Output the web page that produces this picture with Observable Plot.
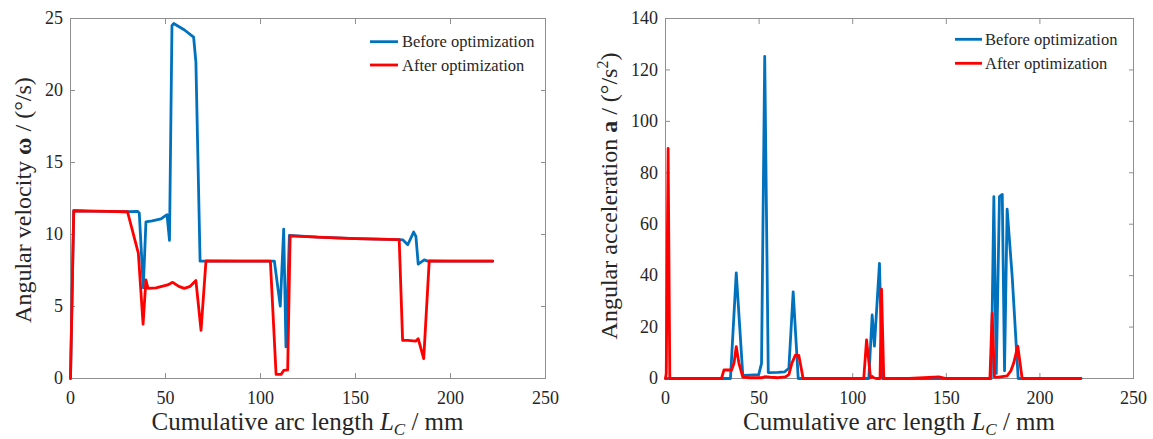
<!DOCTYPE html>
<html>
<head>
<meta charset="utf-8">
<script src="https://cdn.jsdelivr.net/npm/d3@7"></script>
<script src="https://cdn.jsdelivr.net/npm/@observablehq/plot@0.6"></script>
<style>
  html, body { margin: 0; padding: 0; background: white; }
  #row { display: flex; flex-direction: row; width: 1153px; height: 439px; overflow: hidden; }
  svg { display: block; }
  #row svg, #row svg text, #row svg tspan { font-family: "Liberation Serif", "DejaVu Serif", serif !important; }
</style>
</head>
<body>
<div id="row"></div>
<script>
// ---------- Data ----------
const xTicks = [0, 50, 100, 150, 200, 250];
const omegaTicks = [0, 5, 10, 15, 20, 25];
const accTicks = [0, 20, 40, 60, 80, 100, 120, 140];
const seriesNames = ["Before optimization", "After optimization"];

// Angular velocity, before optimization
const velBeforeL = [0, 1.7, 10, 20, 30, 35.4, 36.2, 38.3, 39.7, 43, 47.6, 50.8, 52.1, 53.4, 54.3, 60, 64.8, 66, 68.2, 75, 90, 107.3, 110.4, 112.2, 113.4, 115.2, 130, 150, 173, 175, 177.5, 180.6, 181.8, 183, 186.2, 188, 200, 222.2];
const velBeforeW = [0, 11.65, 11.62, 11.6, 11.58, 11.6, 11.5, 6.3, 10.87, 10.95, 11.08, 11.38, 9.59, 24.5, 24.65, 24.2, 23.7, 21.97, 8.15, 8.15, 8.15, 8.15, 5.03, 10.38, 2.19, 9.94, 9.82, 9.72, 9.64, 9.62, 9.29, 10.17, 9.87, 7.94, 8.24, 8.15, 8.15, 8.15];

// Angular velocity, after optimization
const velAfterL = [0, 1.7, 10, 20, 30, 35.7, 38.2, 39.7, 40.8, 45, 51.1, 53.8, 57, 59.9, 63, 66, 68.7, 71.3, 90, 105.2, 108.2, 110.8, 112.2, 114.3, 115.6, 130, 150, 173, 174.8, 177.5, 181.8, 183, 185.9, 188.8, 200, 222.2];
const velAfterW = [0, 11.65, 11.62, 11.6, 11.58, 8.7, 3.77, 6.84, 6.26, 6.3, 6.5, 6.68, 6.4, 6.26, 6.4, 6.8, 3.35, 8.17, 8.15, 8.15, 0.28, 0.28, 0.56, 0.6, 9.9, 9.82, 9.72, 9.64, 2.65, 2.65, 2.6, 2.77, 1.38, 8.17, 8.15, 8.15];

// Angular acceleration, before optimization
const accBeforeL = [0, 34.7, 37.8, 41.3, 45, 49.8, 51.3, 53, 54.9, 60, 63.7, 65.9, 68.2, 70.9, 80, 106.5, 108.6, 110.4, 111.6, 114.3, 115.8, 130, 150, 174, 175.4, 176.7, 178.4, 179.9, 181.1, 182.5, 185.2, 188.4, 200, 222];
const accBeforeA = [0, 0, 41.1, 1.2, 1.3, 1.5, 5.9, 125.3, 2.3, 2.4, 2.6, 4, 33.7, 0, 0, 0, 0, 24.7, 12.6, 44.8, 0, 0, 0, 0, 70.7, 2, 70.7, 71.6, 3, 65.9, 39.6, 0, 0, 0];

// Angular acceleration, after optimization
const accAfterL = [0, 0.4, 1.4, 2.3, 10, 29.9, 31.2, 35.3, 36.6, 37.8, 39.2, 41.3, 45, 51.6, 53, 56, 60, 64, 65.9, 67.5, 69.4, 71.2, 72.5, 73.5, 90, 105.9, 107.4, 109.5, 110.5, 111.2, 112.5, 114.6, 115.4, 116.6, 130, 146, 150, 173.3, 174.5, 175.7, 178, 182.5, 184.5, 186, 188.2, 190.5, 200, 221.7];
const accAfterA = [0, 2, 89.5, 0, 0, 0, 3.3, 3.3, 6, 12.4, 6, 0.5, 0.3, 0.3, 0.7, 0.5, 0.3, 0.6, 1.5, 6, 9.1, 9, 4, 0, 0, 0, 15, 0.3, 0.8, 0.3, 0, 0, 34.7, 0, 0, 0.6, 0, 0, 25.3, 0.5, 0.5, 1, 3, 6, 12.6, 0, 0, 0];

// ---------- Build ----------
const BLUE = "#0072BD", RED = "#FF0000";
const FRAME = "#8f8f8f", TEXT = "#262626";
const FONT = "Liberation Serif, DejaVu Serif, serif";

const zip = (xs, ys) => xs.map((x, i) => ({x, y: ys[i]}));

function makeChart({width, marginLeft, marginRight, yDomain, yTicks, before, after}) {
  return Plot.plot({
    width, height: 439,
    marginLeft, marginRight, marginTop: 18, marginBottom: 61,
    style: {fontFamily: FONT, fontSize: "18px", background: "white", color: TEXT, overflow: "visible"},
    x: {domain: [0, 250]},
    y: {domain: yDomain},
    marks: [
      Plot.axisX({ticks: xTicks, tickSize: -5, tickPadding: 18, stroke: FRAME, fill: TEXT, label: null}),
      Plot.axisX({anchor: "top", ticks: xTicks, tickSize: -5, tickFormat: () => "", stroke: FRAME, label: null}),
      Plot.axisY({ticks: yTicks, tickSize: -5, tickPadding: 12.5, stroke: FRAME, fill: TEXT, label: null}),
      Plot.axisY({anchor: "right", ticks: yTicks, tickSize: -5, tickFormat: () => "", stroke: FRAME, label: null}),
      Plot.frame({stroke: FRAME, strokeWidth: 1}),
      Plot.line(before, {x: "x", y: "y", stroke: BLUE, strokeWidth: 2.8, strokeLinejoin: "round"}),
      Plot.line(after, {x: "x", y: "y", stroke: RED, strokeWidth: 2.8, strokeLinejoin: "round"})
    ]
  });
}

function addLegend(svg, x0, x1, tx, y0, y1) {
  const g = d3.select(svg).append("g")
    .attr("font-size", 16.5).attr("fill", TEXT).attr("text-anchor", "start");
  [[seriesNames[0], BLUE, y0], [seriesNames[1], RED, y1]].forEach(([name, c, y]) => {
    g.append("line").attr("x1", x0).attr("x2", x1).attr("y1", y).attr("y2", y).attr("stroke", c).attr("stroke-width", 2.8);
    g.append("text").attr("x", tx).attr("y", y + 5.5).attr("text-anchor", "start").text(name);
  });
}

function addXLabel(svg, cx) {
  const t = d3.select(svg).append("text")
    .attr("x", cx).attr("y", 430).attr("text-anchor", "middle")
    .attr("font-size", 25).attr("fill", TEXT);
  t.append("tspan").text("Cumulative arc length ");
  t.append("tspan").attr("font-style", "italic").text("L");
  t.append("tspan").attr("font-style", "italic").attr("font-size", 17).attr("dy", 5).text("C");
  t.append("tspan").attr("dy", -5).text(" / mm");
}

function addYLabel(svg, x, cy, parts) {
  const t = d3.select(svg).append("text")
    .attr("transform", `translate(${x},${cy}) rotate(-90)`)
    .attr("text-anchor", "middle")
    .attr("font-size", 24).attr("fill", TEXT);
  parts(t);
}

const row = document.getElementById("row");

const left = makeChart({
  width: 576, marginLeft: 70, marginRight: 31,
  yDomain: [0, 25], yTicks: omegaTicks,
  before: zip(velBeforeL, velBeforeW), after: zip(velAfterL, velAfterW)
});
addLegend(left, 370, 398, 402, 41.7, 65);
addXLabel(left, 307.5);
addYLabel(left, 31, 200, t => {
  t.append("tspan").text("Angular velocity ");
  t.append("tspan").attr("font-weight", "bold").text("ω");
  t.append("tspan").text(" / (°/s)");
});
row.appendChild(left);

const right = makeChart({
  width: 577, marginLeft: 89, marginRight: 20,
  yDomain: [0, 140], yTicks: accTicks,
  before: zip(accBeforeL, accBeforeA), after: zip(accAfterL, accAfterA)
});
addLegend(right, 379, 406, 409, 39.3, 63.3);
addXLabel(right, 323);
addYLabel(right, 617 - 576, 196, t => {
  t.append("tspan").text("Angular acceleration ");
  t.append("tspan").attr("font-weight", "bold").text("a");
  t.append("tspan").text(" / (°/s");
  t.append("tspan").attr("font-size", 16).attr("dy", -9).text("2");
  t.append("tspan").attr("dy", 9).text(")");
});
row.appendChild(right);
</script>
</body>
</html>
